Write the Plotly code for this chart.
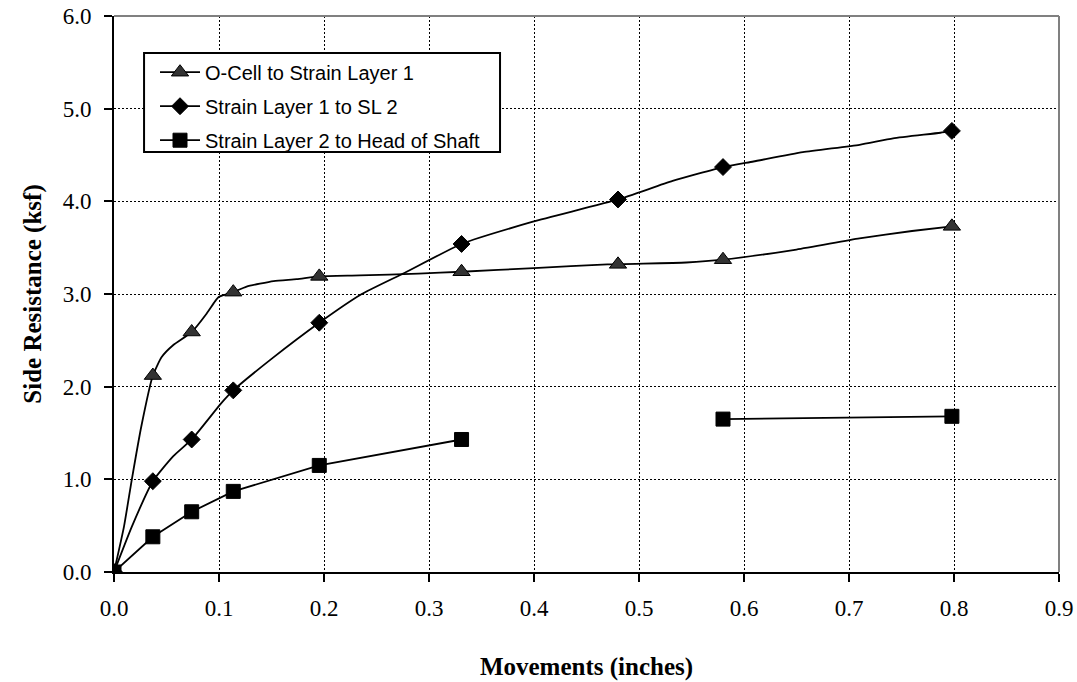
import plotly.graph_objects as go

# ---- data ----
# marker points (same movement stations for all three series)
stations_x = [0.0, 0.037, 0.074, 0.1136, 0.1955, 0.331, 0.480, 0.580, 0.798]
ocell_y = [0.0, 2.12, 2.59, 3.02, 3.19, 3.24, 3.32, 3.37, 3.73]
sl1_sl2_y = [0.0, 0.98, 1.43, 1.96, 2.69, 3.54, 4.02, 4.37, 4.76]
sl2_head_y = [0.0, 0.38, 0.65, 0.87, 1.15, 1.43, None, 1.65, 1.68]

# traced curve points between markers
ocell_curve_x = [0.0, 0.0095, 0.017, 0.026, 0.037, 0.0454, 0.0565, 0.074, 0.0883, 0.0962,
                 0.10, 0.1136, 0.1263, 0.152, 0.174, 0.1955, 0.234, 0.29, 0.331, 0.40,
                 0.47, 0.545, 0.58, 0.65, 0.71, 0.76, 0.798]
ocell_curve_y = [0.0, 0.49, 1.0, 1.57, 2.12, 2.32, 2.45, 2.59, 2.79, 2.92,
                 2.97, 3.02, 3.08, 3.14, 3.16, 3.19, 3.20, 3.22, 3.24, 3.28,
                 3.32, 3.34, 3.37, 3.48, 3.60, 3.68, 3.73]
sl1_curve_x = [0.0, 0.017, 0.037, 0.0565, 0.074, 0.102, 0.1136, 0.15, 0.1955, 0.236,
               0.277, 0.331, 0.399, 0.48, 0.532, 0.58, 0.609, 0.656, 0.71, 0.742,
               0.787, 0.798]
sl1_curve_y = [0.0, 0.49, 0.98, 1.25, 1.43, 1.82, 1.96, 2.30, 2.69, 3.0,
               3.23, 3.54, 3.78, 4.02, 4.22, 4.37, 4.43, 4.53, 4.61, 4.68,
               4.74, 4.76]

names = ["O-Cell to Strain Layer 1", "Strain Layer 1 to SL 2",
         "Strain Layer 2 to Head of Shaft"]

x_ticks = [0.0, 0.1, 0.2, 0.3, 0.4, 0.5, 0.6, 0.7, 0.8, 0.9]
y_ticks = [0.0, 1.0, 2.0, 3.0, 4.0, 5.0, 6.0]

LINE_W = 1.8
tri_style = dict(symbol="triangle-up", size=15, color="#333333",
                 line=dict(color="black", width=1))
dia_style = dict(symbol="diamond", size=13, color="black",
                 line=dict(color="black", width=1))
sq_style = dict(symbol="square", size=14, color="black",
                line=dict(color="black", width=1))

fig = go.Figure()

# curves
fig.add_trace(go.Scatter(x=ocell_curve_x, y=ocell_curve_y, mode="lines",
                         line=dict(color="black", width=LINE_W, shape="spline", smoothing=0.5),
                         showlegend=False, hoverinfo="skip"))
fig.add_trace(go.Scatter(x=sl1_curve_x, y=sl1_curve_y, mode="lines",
                         line=dict(color="black", width=LINE_W, shape="spline", smoothing=0.5),
                         showlegend=False, hoverinfo="skip"))
fig.add_trace(go.Scatter(x=stations_x, y=sl2_head_y, mode="lines",
                         line=dict(color="black", width=LINE_W), connectgaps=False,
                         showlegend=False, hoverinfo="skip"))

# markers
fig.add_trace(go.Scatter(x=stations_x, y=ocell_y, mode="markers", marker=tri_style,
                         showlegend=False, name=names[0]))
fig.add_trace(go.Scatter(x=stations_x, y=sl1_sl2_y, mode="markers", marker=dia_style,
                         showlegend=False, name=names[1]))
fig.add_trace(go.Scatter(x=stations_x, y=sl2_head_y, mode="markers", marker=sq_style,
                         showlegend=False, name=names[2]))

# legend entries
for nm, st in zip(names, [tri_style, dia_style, sq_style]):
    fig.add_trace(go.Scatter(x=[None], y=[None], mode="lines+markers", name=nm,
                             line=dict(color="black", width=LINE_W), marker=st,
                             legendgroup=nm))

serif = "Liberation Serif, Times New Roman, serif"
axis_common = dict(
    showline=True, linecolor="black", linewidth=2, automargin=False,
    ticks="outside", ticklen=8, tickwidth=1.5, tickcolor="black",
    showgrid=True, gridcolor="black", gridwidth=1, griddash="2px,2px",
    zeroline=False, tickformat=".1f",
    tickfont=dict(family=serif, size=23, color="black"),
)

fig.update_xaxes(range=[0, 0.9], tickvals=x_ticks, ticklabelstandoff=6,
                 title=dict(text="<b>Movements (inches)</b>", standoff=38,
                            font=dict(family=serif, size=25, color="black")),
                 **axis_common)
fig.update_yaxes(range=[0, 6], tickvals=y_ticks, ticklabelstandoff=8,
                 title=dict(text="<b>Side Resistance (ksf)</b>", standoff=14,
                            font=dict(family=serif, size=25, color="black")),
                 **axis_common)

# gray top/right frame
fig.add_shape(type="line", xref="x domain", yref="y domain", x0=0, x1=1, y0=1, y1=1,
              line=dict(color="#808080", width=2))
fig.add_shape(type="line", xref="x domain", yref="y domain", x0=1, x1=1, y0=0, y1=1,
              line=dict(color="#808080", width=2))
# legend frame
fig.add_shape(type="rect", xref="paper", yref="paper",
              x0=0.0318, x1=0.4085, y0=0.7554, y1=0.9335,
              fillcolor="white", line=dict(color="black", width=2), layer="above")

fig.update_layout(
    width=1077, height=682,
    margin=dict(l=114, r=18, t=16, b=110, autoexpand=False),
    plot_bgcolor="white", paper_bgcolor="white",
    legend=dict(x=0.0434, y=0.934, xanchor="left", yanchor="top",
                bgcolor="rgba(0,0,0,0)", borderwidth=0,
                font=dict(family="Arial, Liberation Sans, sans-serif", size=20, color="black"),
                itemwidth=40, tracegroupgap=5, traceorder="grouped"),
)

fig.write_html("out.html")
